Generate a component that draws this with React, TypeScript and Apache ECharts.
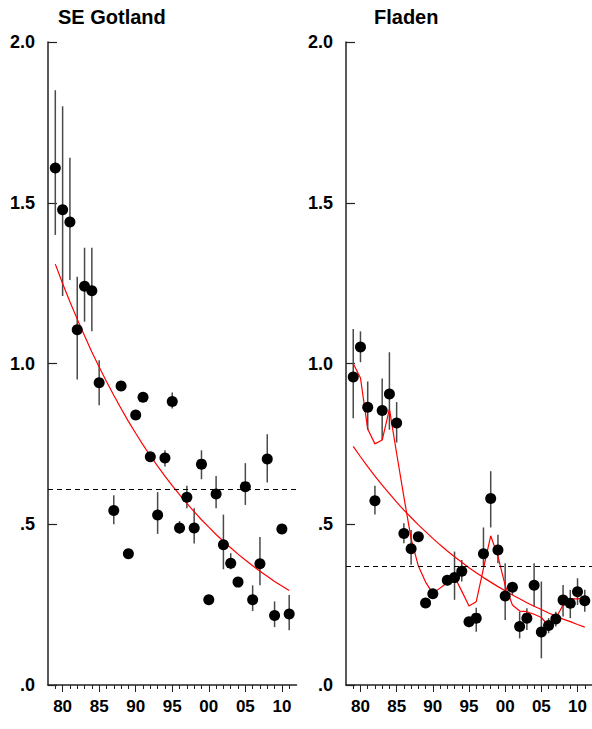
import React, { useEffect, useRef } from 'react';
import * as echarts from 'echarts';

// Shared year axis (category ticks, one per year)
const axisYears: string[] = [
  '1978', '1979', '1980', '1981', '1982', '1983', '1984', '1985', '1986', '1987',
  '1988', '1989', '1990', '1991', '1992', '1993', '1994', '1995', '1996', '1997',
  '1998', '1999', '2000', '2001', '2002', '2003', '2004', '2005', '2006', '2007',
  '2008', '2009', '2010', '2011', '2012',
];
const yTickLabels: Record<string, string> = { '0': '.0', '0.5': '.5', '1': '1.0', '1.5': '1.5', '2': '2.0' };

// SE Gotland
const gotlandYears = [1979, 1980, 1981, 1982, 1983, 1984, 1985, 1987, 1988, 1989, 1990, 1991, 1992, 1993, 1994, 1995,
  1996, 1997, 1998, 1999, 2000, 2001, 2002, 2003, 2004, 2005, 2006, 2007, 2008, 2009, 2010, 2011];
const gotlandMean = [1.608, 1.478, 1.44, 1.105, 1.24, 1.226, 0.94, 0.543, 0.93, 0.408, 0.84, 0.895, 0.71, 0.529, 0.706, 0.882,
  0.488, 0.584, 0.488, 0.687, 0.265, 0.594, 0.436, 0.379, 0.32, 0.617, 0.265, 0.377, 0.703, 0.216, 0.485, 0.221];
const gotlandLow = [1.40, 1.21, 1.26, 0.95, 1.13, 1.10, 0.87, 0.50, null, null, null, null, null, 0.47, 0.68, 0.86,
  0.47, 0.55, 0.44, 0.64, 0.25, 0.55, 0.36, 0.36, 0.31, 0.56, 0.23, 0.31, 0.63, 0.18, null, 0.17];
const gotlandHigh = [1.85, 1.80, 1.64, 1.27, 1.36, 1.36, 1.01, 0.59, null, null, null, null, null, 0.60, 0.73, 0.91,
  0.51, 0.62, 0.55, 0.73, 0.28, 0.65, 0.53, 0.41, 0.33, 0.69, 0.31, 0.46, 0.78, 0.26, null, 0.28];
const trendYears = [1979, 1980, 1981, 1982, 1983, 1984, 1985, 1986, 1987, 1988, 1989, 1990, 1991, 1992, 1993, 1994, 1995,
  1996, 1997, 1998, 1999, 2000, 2001, 2002, 2003, 2004, 2005, 2006, 2007, 2008, 2009, 2010, 2011];
const gotlandTrend = [1.309, 1.249, 1.192, 1.138, 1.086, 1.036, 0.989, 0.944, 0.901, 0.86, 0.82, 0.783, 0.747, 0.713, 0.681,
  0.65, 0.62, 0.592, 0.565, 0.539, 0.514, 0.491, 0.468, 0.447, 0.427, 0.407, 0.389, 0.371, 0.354, 0.338, 0.322, 0.308, 0.294];
const gotlandRef = 0.614;

// Fladen
const fladenYears = [1979, 1980, 1981, 1982, 1983, 1984, 1985, 1986, 1987, 1988, 1989, 1990, 1992, 1993, 1994, 1995,
  1996, 1997, 1998, 1999, 2000, 2001, 2002, 2003, 2004, 2005, 2006, 2007, 2008, 2009, 2010, 2011];
const fladenMean = [0.958, 1.051, 0.864, 0.573, 0.854, 0.905, 0.815, 0.471, 0.424, 0.461, 0.255, 0.284, 0.326, 0.334, 0.354, 0.197,
  0.208, 0.408, 0.58, 0.42, 0.277, 0.304, 0.182, 0.208, 0.31, 0.165, 0.185, 0.205, 0.264, 0.254, 0.29, 0.262];
const fladenLow = [0.83, 1.004, 0.794, 0.53, 0.762, 0.794, 0.754, 0.441, 0.374, null, null, null, null, 0.265, 0.322, 0.18,
  0.166, 0.37, 0.49, 0.379, 0.202, 0.28, 0.145, 0.171, 0.244, 0.083, 0.161, 0.182, 0.213, 0.208, 0.249, 0.228];
const fladenHigh = [1.107, 1.10, 0.944, 0.62, 0.953, 1.035, 0.88, 0.503, 0.482, null, null, null, null, 0.415, 0.389, 0.21,
  0.24, 0.49, 0.665, 0.467, 0.379, 0.32, 0.228, 0.239, 0.379, 0.322, 0.208, 0.228, 0.311, 0.296, 0.332, 0.296];
const fladenTrend = [0.742, 0.71, 0.679, 0.65, 0.622, 0.595, 0.569, 0.544, 0.521, 0.498, 0.477, 0.456, 0.436, 0.417, 0.399,
  0.382, 0.365, 0.349, 0.334, 0.32, 0.306, 0.293, 0.28, 0.268, 0.256, 0.245, 0.235, 0.224, 0.215, 0.205, 0.197, 0.188, 0.18];
const fladenSmoothYears = [1979, 1980, 1981, 1982, 1983, 1984, 1985, 1986, 1987, 1988, 1989, 1990, 1992, 1993, 1994, 1995,
  1996, 1997, 1998, 1999, 2000, 2001, 2002, 2003, 2004, 2005, 2006, 2007, 2008, 2009, 2010, 2011];
const fladenSmooth = [1.0, 0.955, 0.796, 0.75, 0.762, 0.858, 0.72, 0.585, 0.455, 0.37, 0.32, 0.285, 0.318, 0.337, 0.292, 0.246,
  0.259, 0.363, 0.464, 0.4, 0.31, 0.249, 0.23, 0.228, 0.22, 0.21, 0.184, 0.208, 0.249, 0.268, 0.268, 0.272];
const fladenRef = 0.367;

const FONT = '"Liberation Sans", Arial, sans-serif';
const AXIS_COLOR = '#222';

function pairs(years: number[], vals: (number | null)[]) {
  return years.map((y, i) => [String(y), vals[i]]);
}

function bars(years: number[], low: (number | null)[], high: (number | null)[]) {
  const out: any[] = [];
  years.forEach((y, i) => {
    if (low[i] != null && high[i] != null) out.push([String(y), low[i], high[i]]);
  });
  return out;
}

function panelAxes(g: number) {
  const isMajor = (_i: number, v: string) => Number(v) % 5 === 0;
  const xMinor = {
    type: 'category', gridIndex: g, data: axisYears, boundaryGap: false, position: 'bottom',
    axisLine: { show: true, lineStyle: { color: AXIS_COLOR, width: 1.5 } },
    axisTick: { show: true, length: 4, interval: (i: number) => i > 0 && i < axisYears.length - 1, lineStyle: { color: AXIS_COLOR, width: 1 } },
    axisLabel: { show: false }, splitLine: { show: false },
  };
  const xMajor = {
    type: 'category', gridIndex: g, data: axisYears, boundaryGap: false, position: 'bottom',
    axisLine: { show: false },
    axisTick: { show: true, length: 7, interval: isMajor, lineStyle: { color: AXIS_COLOR, width: 1 } },
    axisLabel: {
      show: true, interval: isMajor, formatter: (v: string) => v.slice(2), margin: 13,
      fontSize: 17, fontWeight: 'bold', color: '#000', fontFamily: FONT,
    },
    splitLine: { show: false },
  };
  const y = {
    type: 'value', gridIndex: g, min: 0, max: 2, interval: 0.5,
    axisLine: { show: true, lineStyle: { color: AXIS_COLOR, width: 1.5 } },
    axisTick: { show: true, inside: true, length: 9, lineStyle: { color: AXIS_COLOR, width: 1.2 } },
    axisLabel: {
      formatter: (v: number) => yTickLabels[String(v)] ?? String(v), margin: 13,
      fontSize: 18, fontWeight: 'bold', color: '#000', fontFamily: FONT,
    },
    splitLine: { show: false },
  };
  return { xMinor, xMajor, y };
}

function errorBarSeries(xi: number, yi: number, data: any[]) {
  return {
    type: 'custom', xAxisIndex: xi, yAxisIndex: yi, data, z: 2,
    encode: { x: 0, y: [1, 2] },
    renderItem: (_p: any, api: any) => {
      const a = api.coord([api.value(0), api.value(1)]);
      const b = api.coord([api.value(0), api.value(2)]);
      return {
        type: 'line',
        shape: { x1: a[0], y1: a[1], x2: b[0], y2: b[1] },
        style: { stroke: '#4a4a4a', lineWidth: 1.5 },
      };
    },
  };
}

function pointSeries(xi: number, yi: number, data: any[]) {
  return {
    type: 'scatter', xAxisIndex: xi, yAxisIndex: yi, data, z: 4,
    symbol: 'circle', symbolSize: 11, itemStyle: { color: '#000', opacity: 1 },
  };
}

function lineSeries(xi: number, yi: number, data: any[], ref?: number) {
  const s: any = {
    type: 'line', xAxisIndex: xi, yAxisIndex: yi, data, z: 3,
    showSymbol: false, symbol: 'none', smooth: false,
    lineStyle: { color: '#ff0000', width: 1.2 },
  };
  if (ref != null) {
    s.markLine = {
      silent: true, symbol: 'none', label: { show: false },
      lineStyle: { color: '#000', type: [5, 4], width: 1.2 },
      data: [{ yAxis: ref }],
    };
  }
  return s;
}

export default function App() {
  const ref = useRef<HTMLDivElement>(null);

  useEffect(() => {
    if (!ref.current) return;
    const chart = echarts.init(ref.current, undefined, { renderer: 'svg' });
    const left = panelAxes(0);
    const right = panelAxes(1);

    chart.setOption({
      animation: false,
      backgroundColor: '#fff',
      grid: [
        { left: 48, top: 42, width: 248.5, height: 643 },
        { left: 346, top: 42, width: 248.5, height: 643 },
      ],
      xAxis: [left.xMinor, left.xMajor, right.xMinor, right.xMajor],
      yAxis: [left.y, right.y],
      graphic: [
        { type: 'text', left: 58, top: 7, style: { text: 'SE Gotland', font: `bold 20px ${FONT}`, fill: '#000' } },
        { type: 'text', left: 374, top: 7, style: { text: 'Fladen', font: `bold 20px ${FONT}`, fill: '#000' } },
      ],
      series: [
        errorBarSeries(0, 0, bars(gotlandYears, gotlandLow, gotlandHigh)),
        lineSeries(0, 0, pairs(trendYears, gotlandTrend), gotlandRef),
        pointSeries(0, 0, pairs(gotlandYears, gotlandMean)),

        errorBarSeries(2, 1, bars(fladenYears, fladenLow, fladenHigh)),
        lineSeries(2, 1, pairs(trendYears, fladenTrend), fladenRef),
        lineSeries(2, 1, pairs(fladenSmoothYears, fladenSmooth)),
        pointSeries(2, 1, pairs(fladenYears, fladenMean)),
      ],
    });
    return () => chart.dispose();
  }, []);

  return <div ref={ref} style={{ position: 'absolute', left: 0, top: 0, width: 592, height: 729 }} />;
}
